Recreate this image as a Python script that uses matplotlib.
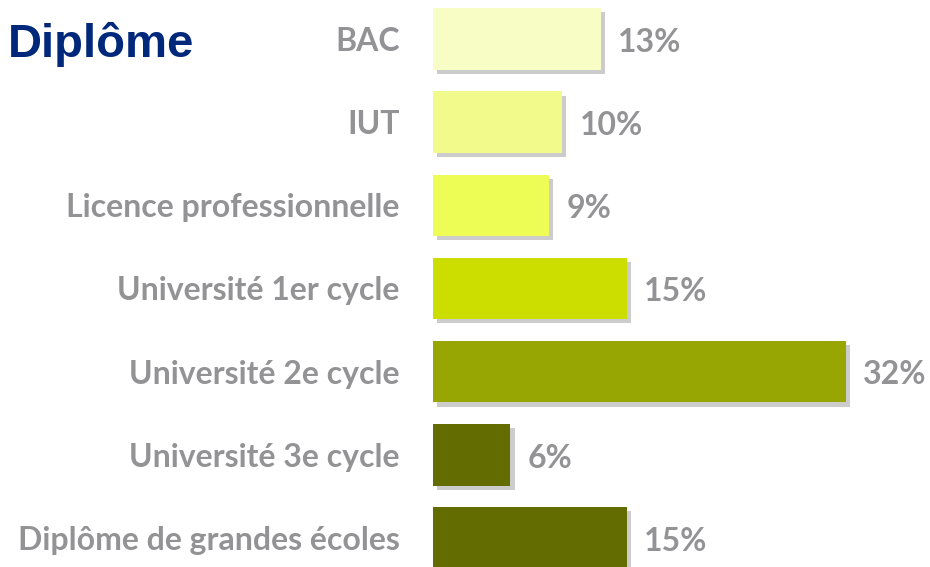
import matplotlib
matplotlib.use("Agg")
import matplotlib.pyplot as plt
import matplotlib.patheffects as pe

categories = ["BAC", "IUT", "Licence professionnelle", "Université 1er cycle",
              "Université 2e cycle", "Université 3e cycle", "Diplôme de grandes écoles"]
values = [13, 10, 9, 15, 32, 6, 15]
value_labels = ["13%", "10%", "9%", "15%", "32%", "6%", "15%"]
colors = ["#F8FCC5", "#F2FA8C", "#EEFD55", "#CCDD00", "#98A603", "#626C00", "#626C00"]
title = "Diplôme"

W, H = 930, 567
fig = plt.figure(figsize=(W / 100, H / 100), dpi=100)
x0 = 433
ax = fig.add_axes([x0 / W, 0, 1 - x0 / W, 1])
px_per_unit = 12.9
ax.set_xlim(0, (W - x0) / px_per_unit)
pitch = 83.2
ax.set_ylim(6 + (H - 538) / pitch, -39 / pitch)

ypos = list(range(len(categories)))
bars = ax.barh(ypos, values, height=0.74, color=colors, zorder=2)
for b in bars:
    b.set_path_effects([pe.SimplePatchShadow(offset=(3, -3), shadow_rgbFace="#9a9a9a", alpha=0.5),
                        pe.Normal()])

grey = "#939396"
font = "Lato"
for y, v, lab in zip(ypos, values, value_labels):
    ax.text(v + 1.35, y + 0.04, lab, ha="left", va="center", fontsize=23,
            fontweight="bold", color=grey, family=font)

ax.set_yticks(ypos)
ax.set_yticklabels(categories, fontsize=23, fontweight="bold", color=grey, family=font)
ax.tick_params(axis="y", length=0, pad=24)
ax.set_xticks([])
for s in ax.spines.values():
    s.set_visible(False)
ax.patch.set_alpha(0)

fig.text(8 / W, 1 - 57 / H, title, fontsize=34, fontweight="bold", color="#00287A",
         family="Liberation Sans", ha="left", va="baseline")

fig.savefig("out.png", dpi=100)
